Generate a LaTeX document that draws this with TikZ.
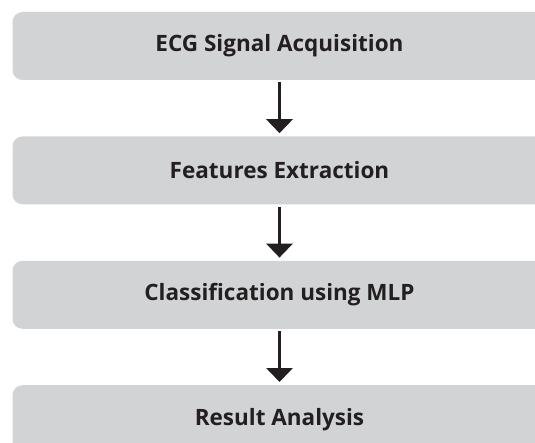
\documentclass[tikz,border=0pt]{standalone}
\usepackage{fontspec}
\setmainfont{Open Sans}
\usetikzlibrary{positioning,arrows.meta}
\definecolor{boxgray}{HTML}{D1D3D4}
\definecolor{textdark}{HTML}{231F20}

\begin{document}
\begin{tikzpicture}[
        x=1pt,
        y=1pt,
        node distance=56pt,
        every node/.style={font=\fontsize{22.5}{27}\selectfont\bfseries},
        stage/.style={
            rectangle,
            rounded corners=10pt,
            fill=boxgray,
            text=textdark,
            align=center,
            inner sep=0pt,
            minimum width=534pt,
            minimum height=68pt
        },
        arrow/.style={
            -{Triangle[width=26pt,length=14pt]},
            line width=3.5pt,
            draw=textdark,
            shorten <=2pt,
            shorten >=3pt
        }
    ]
    \useasboundingbox (0,0) rectangle (535,442);

    % first stage
    \node[stage] (acq) at (279.5,396) {ECG Signal Acquisition};

    % following stages
    \node[stage, below=of acq] (feat) {Features Extraction};
    \node[stage, below=of feat] (clf) {Classification using MLP};
    \node[stage, below=of clf] (res) {Result Analysis};

    % arrows
    \draw[arrow] (acq) -- (feat);
    \draw[arrow] (feat) -- (clf);
    \draw[arrow] (clf) -- (res);

\end{tikzpicture}
\end{document}
